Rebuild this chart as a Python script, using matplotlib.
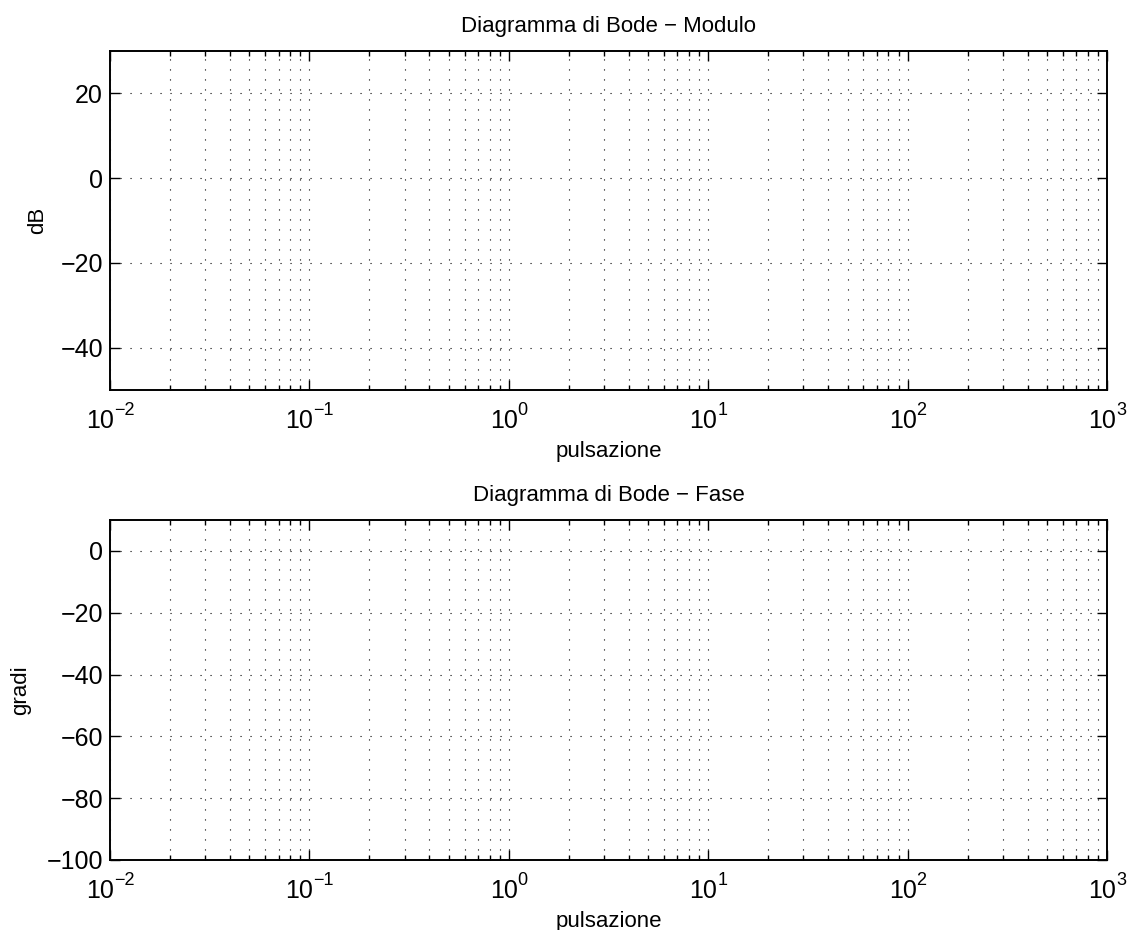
import math
import matplotlib
matplotlib.use("Agg")
import matplotlib.pyplot as plt
from matplotlib.ticker import FixedLocator, FuncFormatter, NullFormatter

plt.rcParams['font.family'] = ['Liberation Sans', 'DejaVu Sans']

# Axis ranges and ticks
x_range = [1e-2, 1e3]
x_major = [1e-2, 1e-1, 1e0, 1e1, 1e2, 1e3]
x_minor_mult = [2, 3, 4, 5, 6, 7, 8, 9]
mag_range = [-50, 30]
mag_ticks = [-40, -20, 0, 20]
phase_range = [-100, 10]
phase_ticks = [-100, -80, -60, -40, -20, 0]

titles = ["Diagramma di Bode \u2212 Modulo", "Diagramma di Bode \u2212 Fase"]
ylabels = ["dB", "gradi"]
xlabel = "pulsazione"

fig = plt.figure(figsize=(11.33, 9.30), dpi=100)
ax1 = fig.add_axes([0.0971, 0.5806, 0.8800, 0.3645])
ax2 = fig.add_axes([0.0971, 0.0753, 0.8800, 0.3656])

x_minor = [m * d for d in x_major[:-1] for m in x_minor_mult]

def fmt_y(v, pos):
    return ("\u2212%d" % abs(v)) if v < 0 else "%d" % v

renderer = fig.canvas.get_renderer()
configs = [(ax1, mag_range, mag_ticks, titles[0], ylabels[0], -0.073),
           (ax2, phase_range, phase_ticks, titles[1], ylabels[1], -0.090)]
for ax, ylim, yt, title, yl, ylx in configs:
    ax.set_xscale('log')
    ax.set_xlim(x_range)
    ax.set_ylim(ylim)
    ax.yaxis.set_major_locator(FixedLocator(yt))
    ax.yaxis.set_major_formatter(FuncFormatter(fmt_y))
    ax.xaxis.set_major_locator(FixedLocator(x_major))
    ax.xaxis.set_minor_locator(FixedLocator(x_minor))
    ax.xaxis.set_major_formatter(NullFormatter())
    ax.xaxis.set_minor_formatter(NullFormatter())
    ax.tick_params(which='both', direction='in', top=True, right=True,
                   color='black', width=1.0)
    ax.tick_params(axis='y', which='major', labelsize=18, length=7.5, pad=5)
    ax.tick_params(axis='x', which='major', length=7.5)
    ax.tick_params(which='minor', length=3.6)
    ax.grid(True, which='major', axis='both', linestyle=(0, (1, 8)), color='black', linewidth=0.8)
    ax.grid(True, which='minor', axis='x', linestyle=(0, (1, 8)), color='black', linewidth=0.8)
    for s in ax.spines.values():
        s.set_linewidth(1.4)
    ax.set_title(title, fontsize=16, pad=14)
    ax.set_ylabel(yl, fontsize=16, va='center')
    ax.yaxis.set_label_coords(ylx, 0.5)
    ax.set_xlabel(xlabel, fontsize=16, va='center')
    ax.xaxis.set_label_coords(0.5, -0.180)

    # x tick labels as 10 with raised exponent
    for v in x_major:
        e = int(round(math.log10(v)))
        es = ("\u2212%d" % abs(e)) if e < 0 else str(e)
        base = ax.annotate("10", xy=(v, 0), xycoords=ax.get_xaxis_transform(),
                           xytext=(0, -38), textcoords='offset pixels',
                           ha='left', va='baseline', fontsize=18)
        sup = ax.annotate(es, xy=(v, 0), xycoords=ax.get_xaxis_transform(),
                          xytext=(0, -25), textcoords='offset pixels',
                          ha='left', va='baseline', fontsize=13)
        wb = base.get_window_extent(renderer).width
        we = sup.get_window_extent(renderer).width
        x0 = -(wb + we) / 2.0
        base.xyann = (x0, -38)
        sup.xyann = (x0 + wb, -25)

fig.savefig("out.png", dpi=100)
